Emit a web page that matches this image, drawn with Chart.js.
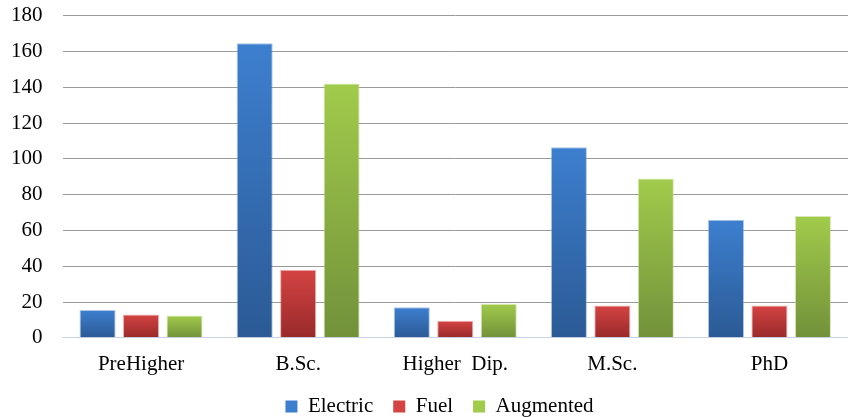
<!DOCTYPE html>
<html>
<head>
<meta charset="utf-8">
<script src="https://cdn.jsdelivr.net/npm/chart.js@4.4.1/dist/chart.umd.min.js"></script>
<style>
  html, body { margin: 0; padding: 0; background: #fff; overflow: hidden; }
  #marco { width: 848px; height: 417px; overflow: hidden; }
  #wrap { width: 848px; height: 444px; margin-top: -17px; }
</style>
</head>
<body>
<div id="marco"><div id="wrap"><canvas id="grafica"></canvas></div></div>
<script>
const categorias = ['PreHigher', 'B.Sc.', 'Higher  Dip.', 'M.Sc.', 'PhD'];
const electric = [15.5, 164.5, 17, 106.5, 66];
const fuel = [13, 38, 9.5, 18, 18];
const augmented = [12.5, 142, 19, 89, 68];
const ticksY = [0, 20, 40, 60, 80, 100, 120, 140, 160, 180];

// top / bottom colours for each series gradient
const colores = {
    electric: ['#3d7fcf', '#2b5a95'],
    fuel: ['#d54343', '#982a2a'],
    augmented: ['#a1cb4b', '#72913a']
};

// the gradient runs from the top of each bar down to its base
function degradado(par) {
    return function(context) {
        const chart = context.chart;
        const y = chart.scales.y;
        if (!chart.chartArea || !y || context.raw === undefined) return par[0];
        const tope = y.getPixelForValue(context.raw);
        const base = y.getPixelForValue(0);
        if (!isFinite(tope) || !isFinite(base) || tope === base) return par[0];
        const g = chart.ctx.createLinearGradient(0, tope, 0, base);
        g.addColorStop(0, par[0]);
        g.addColorStop(1, par[1]);
        return g;
    };
}

// legend items keep their wide horizontal spacing but sit closer to the axis,
// and the row is nudged right so it centres under the plot
const RECORTE = 7;
const DESPLAZAMIENTO_X = 20;
const ajusteLeyenda = {
    id: 'ajusteLeyenda',
    afterInit(chart) {
        const leyenda = chart.legend;
        if (!leyenda) return;
        const fit = leyenda.fit.bind(leyenda);
        leyenda.fit = function() { fit(); this.height -= RECORTE; };
        const draw = leyenda.draw.bind(leyenda);
        leyenda.draw = function() {
            chart.ctx.save();
            chart.ctx.translate(DESPLAZAMIENTO_X, -RECORTE);
            draw();
            chart.ctx.restore();
        };
    }
};

const fuente = { family: '"Liberation Serif", "Times New Roman", serif', size: 21 };

new Chart(document.getElementById('grafica'), {
    type: 'bar',
    data: {
        labels: categorias,
        datasets: [
            { label: 'Electric', data: electric, backgroundColor: degradado(colores.electric), borderColor: 'rgba(120,160,220,0.6)', borderWidth: 1 },
            { label: 'Fuel', data: fuel, backgroundColor: degradado(colores.fuel), borderColor: 'rgba(225,120,120,0.6)', borderWidth: 1 },
            { label: 'Augmented', data: augmented, backgroundColor: degradado(colores.augmented), borderColor: 'rgba(190,220,130,0.6)', borderWidth: 1 }
        ]
    },
    plugins: [ajusteLeyenda],
    options: {
        responsive: true,
        maintainAspectRatio: false,
        animation: false,
        layout: { padding: { left: -9, right: 0, top: 0, bottom: 0 } },
        datasets: { bar: { categoryPercentage: 0.83, barPercentage: 0.83 } },
        scales: {
            x: {
                grid: { display: false },
                border: { color: '#c9d3e3', width: 1 },
                ticks: { color: '#000', font: fuente, padding: 6 }
            },
            y: {
                min: 0,
                max: 180,
                afterBuildTicks: axis => { axis.ticks = ticksY.map(v => ({ value: v })); },
                grid: { color: '#9a9a9a', lineWidth: 1, drawTicks: false },
                border: { display: false },
                ticks: { color: '#000', font: fuente, padding: 20 }
            }
        },
        plugins: {
            legend: {
                position: 'bottom',
                labels: {
                    color: '#000',
                    font: fuente,
                    boxWidth: 12,
                    boxHeight: 12,
                    padding: 20,
                    generateLabels: chart => chart.data.datasets.map((ds, i) => ({
                        text: ds.label,
                        fillStyle: Object.values(colores)[i][0],
                        strokeStyle: Object.values(colores)[i][1],
                        lineWidth: 0,
                        datasetIndex: i
                    }))
                }
            },
            tooltip: { enabled: false }
        }
    }
});
</script>
</body>
</html>
